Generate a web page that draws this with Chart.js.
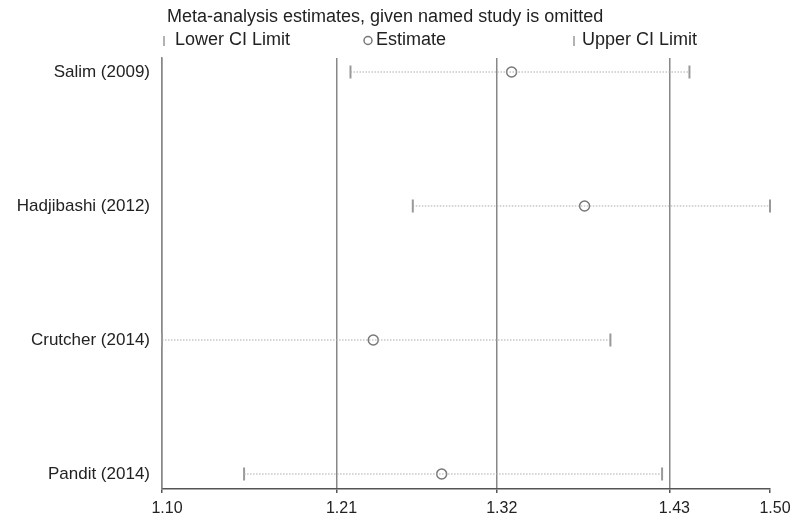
<!DOCTYPE html>
<html>
<head>
<meta charset="utf-8">
<script src="https://cdn.jsdelivr.net/npm/chart.js@4.4.1/dist/chart.umd.min.js"></script>
<style>
  html, body { margin: 0; padding: 0; background: #fff; }
  #wrap { width: 800px; height: 524px; }
</style>
</head>
<body>
<div id="wrap"><canvas id="myChart" width="800" height="524"></canvas></div>
<script>
// studies, top to bottom
const studies = ['Salim (2009)', 'Hadjibashi (2012)', 'Crutcher (2014)', 'Pandit (2014)'];
// meta-analysis estimates with the named study left out
const lowerCI = [1.224, 1.265, 1.100, 1.154];
const estimate = [1.330, 1.378, 1.239, 1.284];
const upperCI = [1.447, 1.500, 1.395, 1.429];
// overall combined result: lower limit, estimate, upper limit
const overall = [1.2148, 1.3202, 1.4338];
// x axis ticks
const tickValues = [1.10, overall[0], overall[1], overall[2], 1.50];
const tickLabels = ['1.10', '1.21', '1.32', '1.43', '1.50'];

const FONT = '"Liberation Sans", Arial, sans-serif';

//* one dotted line per study, from the lower to the upper limit
const rangeSets = studies.map((s, i) => ({
  type: 'line',
  data: [{x: lowerCI[i], y: i}, {x: upperCI[i], y: i}],
  borderColor: '#aaa',
  borderWidth: 1,
  borderDash: [1.5, 1.5],
  pointRadius: 0,
  fill: false
}));

const ciStyle = {
  pointStyle: 'line',
  rotation: 90,
  pointRadius: 6.5,
  borderColor: '#999',
  borderWidth: 2,
  backgroundColor: '#999'
};

//* title and legend are drawn above the plot, like the original
const headerPlugin = {
  id: 'header',
  afterDraw(chart) {
    const ctx = chart.ctx;
    ctx.save();
    ctx.font = '18px ' + FONT;
    ctx.fillStyle = '#222';
    ctx.textBaseline = 'middle';
    ctx.fillText('Meta-analysis estimates, given named study is omitted', 167, 17);

    ctx.strokeStyle = '#999';
    ctx.lineWidth = 1.5;
    ctx.beginPath();
    ctx.moveTo(164, 36); ctx.lineTo(164, 46);
    ctx.moveTo(574, 36); ctx.lineTo(574, 46);
    ctx.stroke();
    ctx.fillText('Lower CI Limit', 175, 40);
    ctx.fillText('Upper CI Limit', 582, 40);

    ctx.strokeStyle = '#777';
    ctx.beginPath();
    ctx.arc(368, 40.5, 4, 0, Math.PI * 2);
    ctx.stroke();
    ctx.fillText('Estimate', 376, 40);
    ctx.restore();
  }
};

const config = {
  type: 'scatter',
  data: {
    datasets: [
      ...rangeSets,
      Object.assign({data: lowerCI.map((v, i) => ({x: v, y: i}))}, ciStyle),
      Object.assign({data: upperCI.map((v, i) => ({x: v, y: i}))}, ciStyle),
      {
        data: estimate.map((v, i) => ({x: v, y: i})),
        pointStyle: 'circle',
        pointRadius: 5,
        backgroundColor: '#fff',
        borderColor: '#777',
        borderWidth: 1.5
      }
    ]
  },
  options: {
    responsive: false,
    animation: false,
    events: [],
    clip: false,
    layout: { padding: { top: 58, right: 30, left: 0, bottom: 0 } },
    plugins: {
      legend: { display: false },
      tooltip: { enabled: false }
    },
    scales: {
      x: {
        type: 'linear',
        min: 1.10,
        max: 1.50,
        afterBuildTicks: s => { s.ticks = tickValues.map(v => ({value: v})); },
        afterFit: s => { s.height = 35; },
        grid: {
          color: c => (c.index === tickValues.length - 1 ? 'rgba(0,0,0,0)' : '#888'),
          lineWidth: 1.5,
          tickColor: '#555',
          tickLength: 4
        },
        border: { color: '#555', width: 1.5 },
        ticks: {
          callback: (v, i) => tickLabels[i],
          font: { size: 16, family: FONT },
          color: '#222',
          padding: 6,
          labelOffset: 5,
          maxRotation: 0,
          autoSkip: false
        }
      },
      y: {
        type: 'linear',
        reverse: true,
        min: -0.1045,
        max: 3.112,
        afterBuildTicks: s => { s.ticks = studies.map((n, i) => ({value: i})); },
        afterFit: s => { s.width = 162; },
        grid: { display: false, drawTicks: false, tickLength: 0 },
        border: { display: true, color: '#888', width: 1.5 },
        ticks: {
          callback: v => studies[v],
          font: { size: 17, family: FONT },
          color: '#222',
          padding: 12,
          autoSkip: false
        }
      }
    }
  },
  plugins: [headerPlugin]
};

const nChart = new Chart(document.getElementById('myChart'), config);
</script>
</body>
</html>
